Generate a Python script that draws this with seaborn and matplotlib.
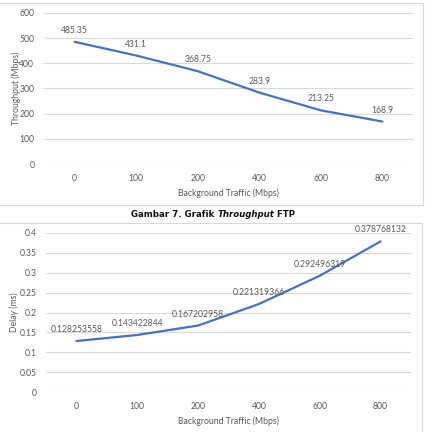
import numpy as np
import pandas as pd
import matplotlib
matplotlib.use("Agg")
import matplotlib.pyplot as plt
import seaborn as sns
from matplotlib.patches import Rectangle
from matplotlib.ticker import FuncFormatter

# data
traffic = ["0", "100", "200", "400", "600", "800"]
throughput = [485.35, 431.1, 368.75, 283.9, 213.25, 168.9]
throughput_labels = ["485.35", "431.1", "368.75", "283.9", "213.25", "168.9"]
delay = [0.128253558, 0.143422844, 0.167202958, 0.221319366, 0.292496319, 0.378768132]
delay_labels = ["0.128253558", "0.143422844", "0.167202958", "0.221319366", "0.292496319", "0.378768132"]

sns.set_style("white")
plt.rcParams['font.family'] = ['Lato', 'DejaVu Sans']

GREY = "#595959"
GRID = "#d9d9d9"
BLUE = "#4472C4"
FS = 6.2

fig = plt.figure(figsize=(4.26, 4.32), dpi=100)
fig.patch.set_facecolor("white")

# chart frames (Excel chart area borders)
fig.patches.append(Rectangle((-0.01, 1 - 205 / 432), 423 / 426 + 0.01, 202 / 432,
                             transform=fig.transFigure, fill=False, edgecolor=GRID, lw=0.8))
fig.patches.append(Rectangle((-0.01, -0.01), 422 / 426 + 0.01, 1 - 223 / 432 + 0.01,
                             transform=fig.transFigure, fill=False, edgecolor=GRID, lw=0.8))

ax1 = fig.add_axes([44 / 426, 1 - 164 / 432, 369 / 426, 151 / 432])
ax2 = fig.add_axes([46 / 426, 1 - 392 / 432, 365 / 426, 159 / 432])


def style(ax, ylim, step, ylabel, ypad):
    for s in ax.spines.values():
        s.set_visible(False)
    ax.set_xlim(-0.5, len(traffic) - 0.5)
    ax.set_ylim(*ylim)
    ax.set_yticks(np.arange(ylim[0], ylim[1] + step / 2, step))
    ax.yaxis.grid(True, color=GRID, lw=0.8)
    ax.xaxis.grid(False)
    ax.tick_params(axis="both", length=0, labelsize=FS, labelcolor=GREY, pad=7)
    ax.set_xlabel("Background Traffic (Mbps)", fontsize=FS, color=GREY, labelpad=4)
    ax.set_ylabel(ylabel, fontsize=FS, color=GREY, labelpad=ypad)
    ax.set_facecolor("none")


df1 = pd.DataFrame({"traffic": traffic, "val": throughput})
sns.lineplot(data=df1, x="traffic", y="val", ax=ax1, color=BLUE, lw=1.6)
style(ax1, (0, 600), 100, "Throughput (Mbps)", -1)
for i, (v, t) in enumerate(zip(throughput, throughput_labels)):
    ax1.annotate(t, (i, v), xytext=(0, 5), textcoords="offset points",
                 ha="center", va="bottom", fontsize=FS, color=GREY)

df2 = pd.DataFrame({"traffic": traffic, "val": delay})
sns.lineplot(data=df2, x="traffic", y="val", ax=ax2, color=BLUE, lw=1.6)
style(ax2, (0, 0.4), 0.05, "Delay (ms)", 0)
ax2.yaxis.set_major_formatter(FuncFormatter(lambda v, p: f"{v:g}"))
for i, (v, t) in enumerate(zip(delay, delay_labels)):
    ax2.annotate(t, (i, v), xytext=(0, 5), textcoords="offset points",
                 ha="center", va="bottom", fontsize=FS, color=GREY)

# caption with italic word
cap_y = 1 - 215 / 432
parts = [("Gambar 7. Grafik ", "normal"), ("Throughput", "italic"), (" FTP", "normal")]
texts = [fig.text(0, cap_y, p, fontsize=6.2, fontweight="bold", style=st,
                  family="DejaVu Sans", color="#111111", va="center")
         for p, st in parts]
fig.canvas.draw()
r = fig.canvas.get_renderer()
widths = [t.get_window_extent(r).width / fig.bbox.width for t in texts]
x = 0.5 - sum(widths) / 2
for t, w in zip(texts, widths):
    t.set_x(x)
    x += w

fig.savefig("out.png", dpi=100)
